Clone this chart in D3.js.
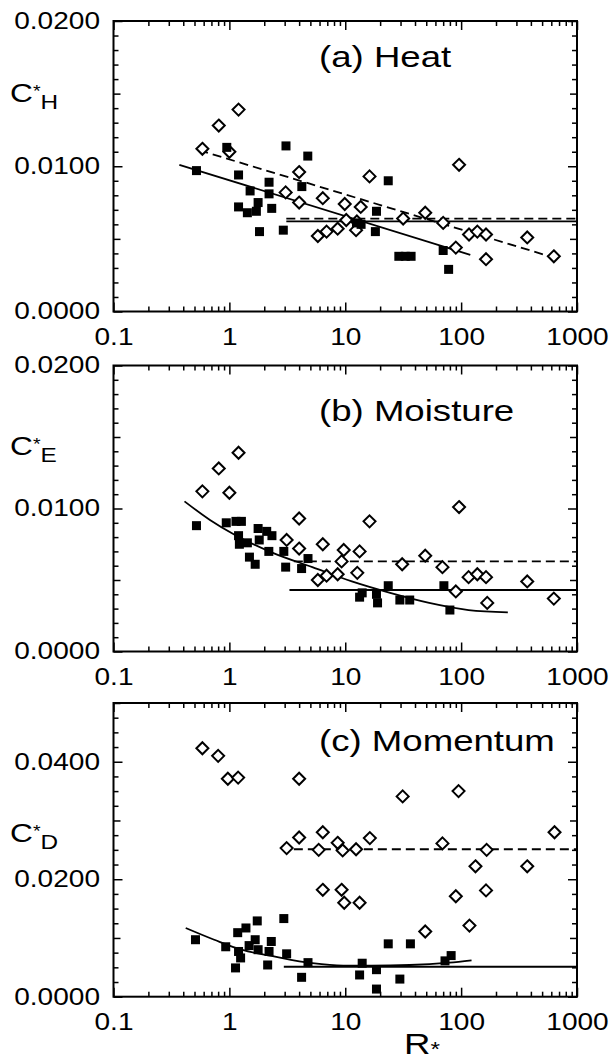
<!DOCTYPE html>
<html>
<head>
<meta charset="utf-8">
<script src="https://cdn.jsdelivr.net/npm/d3@7"></script>
<style>
  body { margin: 0; background: #fff; }
  svg { display: block; }
  text { font-family: "Liberation Sans", Arial, Helvetica, sans-serif; fill: #000; }
</style>
</head>
<body>
<script>
// x axis (shared by all three panels)
const xTickValues = [0.1, 1, 10, 100, 1000];
const xTickLabels = ["0.1", "1", "10", "100", "1000"];

// (a) Heat
const heatYTicks = [0, 0.01, 0.02];
const heatYLabels = ["0.0000", "0.0100", "0.0200"];
const heatOpen = [
  [0.585, 0.0112], [0.81, 0.0128], [1.2, 0.0139], [1.0, 0.0110], [4.0, 0.0096],
  [3.06, 0.0082], [4.0, 0.0075], [6.4, 0.0078], [5.8, 0.0052], [6.9, 0.0055],
  [8.6, 0.0057], [9.9, 0.0074], [10.2, 0.0063], [12.6, 0.0062], [12.4, 0.0056],
  [13.6, 0.0072], [16.2, 0.0093], [31.6, 0.0064], [49, 0.0068], [70, 0.0061],
  [96, 0.0101], [90, 0.0044], [117, 0.0053], [138, 0.0055], [164, 0.0053],
  [164, 0.0036], [372, 0.0051], [631, 0.0038]
];
const heatFilled = [
  [0.52, 0.0097], [0.95, 0.0113], [1.2, 0.0094], [1.2, 0.0072], [1.43, 0.0068],
  [1.51, 0.0083], [1.71, 0.0069], [1.77, 0.0075], [1.82, 0.0055], [2.2, 0.0089],
  [2.2, 0.0081], [2.32, 0.0071], [2.92, 0.0056], [3.08, 0.0114], [4.22, 0.0086],
  [4.75, 0.0107], [13.7, 0.0060], [12.5, 0.0061], [18.6, 0.0069], [18.2, 0.0055],
  [23.5, 0.0090], [29, 0.0038], [33, 0.0038], [37, 0.0038], [70, 0.0042], [78, 0.0029]
];
const heatFitOpen = [[0.55, 0.0111], [580, 0.0038]];
const heatFitFilled = [[0.37, 0.0101], [120, 0.0039]];
const heatMeanOpen = [[3.1, 0.0064], [1000, 0.0064]];
const heatMeanFilled = [[3.1, 0.0062], [1000, 0.0062]];

// (b) Moisture
const moistYTicks = [0, 0.01, 0.02];
const moistYLabels = ["0.0000", "0.0100", "0.0200"];
const moistOpen = [
  [0.585, 0.0112], [0.81, 0.0128], [1.2, 0.0139], [1.0, 0.0111], [4.0, 0.0093],
  [3.12, 0.0078], [4.0, 0.0072], [6.4, 0.0075], [5.8, 0.0050], [6.9, 0.0053],
  [8.6, 0.0054], [9.7, 0.0071], [9.3, 0.0063], [12.7, 0.0055], [13.3, 0.0070],
  [16.2, 0.0091], [31, 0.0061], [49, 0.0067], [69, 0.0059], [96, 0.0101],
  [90, 0.0042], [116, 0.0052], [138, 0.0054], [164, 0.0052], [168, 0.0034],
  [372, 0.0049], [631, 0.0037]
];
const moistFilled = [
  [0.52, 0.0088], [0.94, 0.0090], [1.14, 0.0091], [1.27, 0.0091], [1.2, 0.0081],
  [1.22, 0.0075], [1.43, 0.0076], [1.49, 0.0066], [1.67, 0.0061], [1.77, 0.0086],
  [1.81, 0.0078], [2.1, 0.0084], [2.33, 0.0081], [2.19, 0.0070], [2.95, 0.0070],
  [3.06, 0.0059], [4.2, 0.0058], [4.77, 0.0065], [13.3, 0.0038], [14, 0.0041],
  [18.6, 0.0040], [19, 0.0034], [23.5, 0.0046], [29.6, 0.0036], [36, 0.0036],
  [71, 0.0046], [80, 0.0029]
];
const moistFitFilled = [
  [0.41, 0.0105], [0.68, 0.0092], [1.09, 0.0082], [2.37, 0.0069], [5.2, 0.0059],
  [11.4, 0.0049], [24.4, 0.0041], [53, 0.0034], [116, 0.0029], [253, 0.00274]
];
const moistMeanOpen = [[3.6, 0.0063], [1000, 0.0063]];
const moistMeanFilled = [[3.3, 0.0043], [1000, 0.0043]];

// (c) Momentum
const momYTicks = [0, 0.02, 0.04];
const momYLabels = ["0.0000", "0.0200", "0.0400"];
const momOpen = [
  [0.585, 0.0423], [0.8, 0.0410], [0.97, 0.0371], [1.19, 0.0373], [4.0, 0.0371],
  [31.3, 0.0341], [95, 0.0350], [3.12, 0.0253], [4.0, 0.0271], [6.4, 0.0280],
  [5.9, 0.0250], [8.6, 0.0262], [9.5, 0.0249], [12.4, 0.0251], [16.3, 0.0270],
  [6.4, 0.0182], [9.3, 0.0182], [9.8, 0.0160], [13.3, 0.0160], [69, 0.0261],
  [49, 0.0111], [118, 0.0121], [90, 0.0171], [133, 0.0222], [164, 0.0181],
  [166, 0.0250], [372, 0.0222], [640, 0.0280]
];
const momFilled = [
  [0.51, 0.0097], [0.93, 0.0085], [1.13, 0.0049], [1.18, 0.0109], [1.39, 0.0117],
  [1.2, 0.0077], [1.25, 0.0066], [1.48, 0.0087], [1.67, 0.0097], [1.74, 0.0129],
  [1.77, 0.0080], [2.14, 0.0054], [2.2, 0.0077], [2.3, 0.0094], [2.95, 0.0133],
  [3.12, 0.0073], [4.2, 0.0033], [4.77, 0.0058], [13.3, 0.0037], [14, 0.0057],
  [18.6, 0.0046], [18.6, 0.0013], [23.5, 0.0090], [29.6, 0.0030], [36.5, 0.0090],
  [72.6, 0.0061], [82, 0.0070]
];
const momFitFilled = [
  [0.42, 0.0117], [0.74, 0.0097], [1.27, 0.0080], [2.37, 0.0069], [5.2, 0.0057],
  [9.6, 0.0053], [16.7, 0.0053], [36, 0.0054], [79, 0.0058], [123, 0.0062]
];
const momMeanOpen = [[3.6, 0.0251], [1000, 0.0251]];
const momMeanFilled = [[2.95, 0.0051], [1000, 0.0051]];

// layout
const STRETCH = 1.22;      // the scanned lettering is wide
const boxLeft = 113.5, boxRight = 577;

const svg = d3.select("body").append("svg")
  .attr("width", 611)
  .attr("height", 1061);

const panels = [
  { title: "(a) Heat", sub: "H", top: 21, bottom: 311.5, ymax: 0.02, yMinorStep: 0.001, yMidStep: 0.005,
    yTicks: heatYTicks, yLabels: heatYLabels, titleY: 66.5, nameY: 102,
    open: heatOpen, filled: heatFilled,
    solid: [heatFitFilled, heatMeanFilled], dashed: [heatFitOpen, heatMeanOpen], curved: false },
  { title: "(b) Moisture", sub: "E", top: 365.5, bottom: 651.5, ymax: 0.02, yMinorStep: 0.001, yMidStep: 0.005,
    yTicks: moistYTicks, yLabels: moistYLabels, titleY: 420.5, nameY: 455,
    open: moistOpen, filled: moistFilled,
    solid: [moistFitFilled, moistMeanFilled], dashed: [moistMeanOpen], curved: true },
  { title: "(c) Momentum", sub: "D", top: 703, bottom: 996.7, ymax: 0.05, yMinorStep: 0.0025, yMidStep: 0.01,
    yTicks: momYTicks, yLabels: momYLabels, titleY: 750.5, nameY: 842,
    open: momOpen, filled: momFilled,
    solid: [momFitFilled, momMeanFilled], dashed: [momMeanOpen], curved: true }
];

// minor x ticks: 2..9 in every decade
const xMinor = [];
[0.1, 1, 10, 100].forEach(d => d3.range(2, 10).forEach(k => xMinor.push(+(k * d).toPrecision(3))));

function stretchText(sel) {
  sel.each(function() {
    const t = d3.select(this);
    const x0 = +t.attr("x") || 0;
    t.attr("x", 0).attr("transform", `translate(${x0},0) scale(${STRETCH},1)`);
  });
}

function drawPanel(p) {
  const x = d3.scaleLog().domain([0.1, 1000]).range([boxLeft, boxRight]);
  const y = d3.scaleLinear().domain([0, p.ymax]).range([p.bottom, p.top]);
  const g = svg.append("g");

  const yAll = d3.range(0, Math.round(p.ymax / p.yMinorStep) + 1).map(i => +(i * p.yMinorStep).toFixed(5));
  const yMajorStep = p.yTicks[1];
  const isMult = (v, s) => Math.abs(v / s - Math.round(v / s)) < 1e-6;
  const yMinor = yAll.filter(v => !isMult(v, p.yMidStep));
  const yMid = yAll.filter(v => isMult(v, p.yMidStep) && !isMult(v, yMajorStep));

  // inward ticks on all four sides
  const ticks = (axis, tr) => g.append("g")
    .attr("transform", tr)
    .call(axis.tickFormat(""))
    .call(s => s.select(".domain").remove())
    .call(s => s.selectAll("line").attr("stroke-width", 1.5));

  ticks(d3.axisBottom(x).tickValues(xMinor).tickSize(-5), `translate(0,${p.bottom})`);
  ticks(d3.axisBottom(x).tickValues(xTickValues).tickSize(-9), `translate(0,${p.bottom})`);
  ticks(d3.axisTop(x).tickValues(xMinor).tickSize(-5), `translate(0,${p.top})`);
  ticks(d3.axisTop(x).tickValues(xTickValues).tickSize(-9), `translate(0,${p.top})`);
  [[d3.axisLeft, boxLeft], [d3.axisRight, boxRight]].forEach(([fn, pos]) => {
    ticks(fn(y).tickValues(yMinor).tickSize(-5), `translate(${pos},0)`);
    ticks(fn(y).tickValues(yMid).tickSize(-7), `translate(${pos},0)`);
    ticks(fn(y).tickValues(p.yTicks).tickSize(-9), `translate(${pos},0)`);
  });

  // frame
  g.append("rect")
    .attr("x", boxLeft).attr("y", p.top)
    .attr("width", boxRight - boxLeft).attr("height", p.bottom - p.top)
    .attr("fill", "none").attr("stroke", "#000").attr("stroke-width", 2);

  // tick labels
  g.append("g")
    .attr("transform", `translate(0,${p.bottom})`)
    .call(d3.axisBottom(x).tickValues(xTickValues).tickSize(0).tickPadding(17)
      .tickFormat((d, i) => xTickLabels[i]))
    .call(s => s.select(".domain").remove())
    .call(s => s.selectAll("text").attr("font-size", 23).attr("font-family", null).call(stretchText));

  g.append("g")
    .attr("transform", `translate(${boxLeft},0)`)
    .call(d3.axisLeft(y).tickValues(p.yTicks).tickSize(0).tickPadding(13.5)
      .tickFormat((d, i) => p.yLabels[i]))
    .call(s => s.select(".domain").remove())
    .call(s => s.selectAll("text").attr("font-size", 23).attr("font-family", null).call(stretchText));

  // fit lines
  const line = d3.line().x(d => x(d[0])).y(d => y(d[1]));
  const curve = d3.line().x(d => x(d[0])).y(d => y(d[1])).curve(d3.curveMonotoneX);
  p.solid.forEach(s => g.append("path")
    .attr("d", (p.curved && s.length > 2 ? curve : line)(s))
    .attr("fill", "none").attr("stroke", "#000").attr("stroke-width", 1.8));
  p.dashed.forEach(s => g.append("path")
    .attr("d", line(s))
    .attr("fill", "none").attr("stroke", "#000").attr("stroke-width", 1.8)
    .attr("stroke-dasharray", "9,5"));

  // open diamonds
  g.append("g").selectAll("path")
    .data(p.open)
    .join("path")
    .attr("transform", d => `translate(${x(d[0])},${y(d[1])})`)
    .attr("d", "M0,-6L6,0L0,6L-6,0Z")
    .attr("fill", "#fff").attr("stroke", "#000").attr("stroke-width", 2);

  // filled squares
  g.append("g").selectAll("rect")
    .data(p.filled)
    .join("rect")
    .attr("x", d => x(d[0]) - 4.5)
    .attr("y", d => y(d[1]) - 4.5)
    .attr("width", 9).attr("height", 9)
    .attr("fill", "#000");

  // panel title
  g.append("text")
    .attr("transform", `translate(319,${p.titleY}) scale(${STRETCH},1)`)
    .attr("font-size", 30)
    .text(p.title);

  // y name C*X
  const nm = g.append("text")
    .attr("transform", `translate(10,${p.nameY}) scale(${STRETCH},1)`)
    .attr("font-size", 26);
  nm.append("tspan").text("C");
  nm.append("tspan").attr("font-size", 16).attr("dy", -5).text("*");
  nm.append("tspan").attr("font-size", 20).attr("dy", 12).text(p.sub);
}

panels.forEach(drawPanel);

// x name R*
const rName = svg.append("text")
  .attr("transform", `translate(404,1054) scale(${STRETCH},1)`)
  .attr("font-size", 30);
rName.append("tspan").text("R");
rName.append("tspan").attr("font-size", 20).attr("dy", 2).text("*");
</script>
</body>
</html>
